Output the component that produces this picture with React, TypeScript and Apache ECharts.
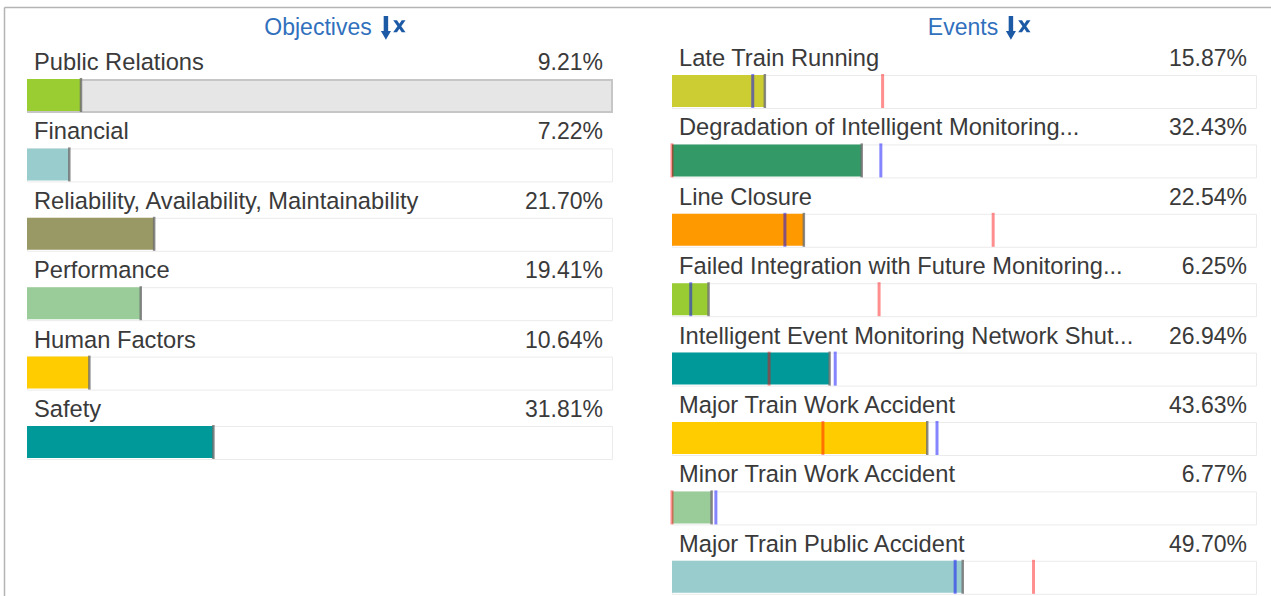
import React, { useEffect, useRef } from 'react';
import * as echarts from 'echarts';

const objectiveNames = [
  'Public Relations',
  'Financial',
  'Reliability, Availability, Maintainability',
  'Performance',
  'Human Factors',
  'Safety',
];
const objectiveValues = [9.21, 7.22, 21.7, 19.41, 10.64, 31.81];
const objectiveColors = ['#9acd32', '#99cccc', '#999966', '#99cc99', '#ffcc00', '#009999'];

const eventNames = [
  'Late Train Running',
  'Degradation of Intelligent Monitoring...',
  'Line Closure',
  'Failed Integration with Future Monitoring...',
  'Intelligent Event Monitoring Network Shut...',
  'Major Train Work Accident',
  'Minor Train Work Accident',
  'Major Train Public Accident',
];
const eventValues = [15.87, 32.43, 22.54, 6.25, 26.94, 43.63, 6.77, 49.7];
const eventColors = ['#cccc33', '#339966', '#ff9900', '#99cc33', '#009999', '#ffcc00', '#99cc99', '#99cccc'];
const eventBlueMarks = [13.8, 35.7, 19.3, 3.2, 27.9, 45.3, 7.5, 48.4];
const eventRedMarks = [36.0, 0, 54.9, 35.4, 16.6, 25.8, 0, 61.8];

const panelTitles = ['Objectives', 'Events'];

const ICON_PATH =
  'M1.5 0 H5.5 V14 H8 L3.5 22 L-1 14 H1.5 Z ' +
  'M10 4 L13.4 4 L15.5 7.2 L17.6 4 L21 4 L17.2 9.5 L21 15 L17.6 15 L15.5 11.8 L13.4 15 L10 15 L13.8 9.5 Z';

let iconRegistered = false;
function ensureIcon() {
  if (iconRegistered) return;
  echarts.graphic.registerShape('sortIcon', echarts.graphic.extendPath(ICON_PATH, {}));
  iconRegistered = true;
}

const FONT = '"Liberation Sans", Arial, sans-serif';
const TEXT_COLOR = '#3a3a3a';
const TITLE_COLOR = '#3170bd';
const ICON_COLOR = '#1d5aa6';

function pct(v: number) {
  return v.toFixed(2) + '%';
}

function hiddenAxis(gridIndex: number, data: string[]) {
  return {
    gridIndex,
    type: 'category',
    inverse: true,
    data,
    axisLine: { show: false },
    axisTick: { show: false },
    axisLabel: { show: false },
    splitLine: { show: false },
  };
}

const labelText = {
  fontFamily: FONT,
  color: TEXT_COLOR,
  verticalAlign: 'middle',
};

function panelSeries(
  axisIndex: number,
  names: string[],
  values: number[],
  colors: string[],
  highlightFirst: boolean
) {
  const trackStyle = { color: '#ffffff', borderColor: '#ebebeb', borderWidth: 1 };
  return [
    {
      type: 'bar',
      xAxisIndex: axisIndex,
      yAxisIndex: axisIndex,
      barWidth: 34,
      barGap: '-100%',
      silent: true,
      itemStyle: trackStyle,
      label: {
        show: true,
        position: [7, -17],
        align: 'left',
        fontSize: 23.7,
        formatter: (p: any) => names[p.dataIndex],
        ...labelText,
      },
      data: names.map((_, i) =>
        highlightFirst && i === 0
          ? { value: 100, itemStyle: { color: '#e6e6e6', borderColor: '#c6c6c6', borderWidth: 2 } }
          : { value: 100 }
      ),
    },
    {
      type: 'bar',
      xAxisIndex: axisIndex,
      yAxisIndex: axisIndex,
      barWidth: 34,
      barGap: '-100%',
      silent: true,
      itemStyle: { color: 'rgba(0,0,0,0)' },
      label: {
        show: true,
        position: ['100%', -17],
        offset: [-10, 0],
        align: 'right',
        fontSize: 23,
        formatter: (p: any) => pct(values[p.dataIndex]),
        ...labelText,
      },
      data: names.map(() => 100),
    },
    {
      type: 'bar',
      xAxisIndex: axisIndex,
      yAxisIndex: axisIndex,
      barWidth: 32,
      barGap: '-100%',
      silent: true,
      data: values.map((v, i) => ({ value: v, itemStyle: { color: colors[i] } })),
    },
    {
      type: 'scatter',
      xAxisIndex: axisIndex,
      yAxisIndex: axisIndex,
      symbol: 'rect',
      symbolSize: [2.5, 34],
      silent: true,
      itemStyle: { color: '#6e6e6e' },
      data: values.map((v, i) => [v, i]),
    },
  ];
}

export default function App() {
  const ref = useRef<HTMLDivElement>(null);

  useEffect(() => {
    if (!ref.current) return;
    ensureIcon();
    const chart = echarts.init(ref.current, undefined, { renderer: 'svg' });

    const series: any[] = [
      ...panelSeries(0, objectiveNames, objectiveValues, objectiveColors, true),
      ...panelSeries(1, eventNames, eventValues, eventColors, false),
      {
        type: 'scatter',
        xAxisIndex: 1,
        yAxisIndex: 1,
        symbol: 'rect',
        symbolSize: [3, 34],
        silent: true,
        itemStyle: { color: 'rgba(255,0,0,0.55)' },
        data: eventRedMarks.map((v, i) => [v, i]),
      },
      {
        type: 'scatter',
        xAxisIndex: 1,
        yAxisIndex: 1,
        symbol: 'rect',
        symbolSize: [3, 34],
        silent: true,
        itemStyle: { color: 'rgba(0,0,255,0.6)' },
        data: eventBlueMarks.map((v, i) => [v, i]),
      },
    ];

    const option: any = {
      animation: false,
      grid: [
        { left: 27, width: 586, top: 60.3, height: 416.4, containLabel: false },
        { left: 672, width: 585, top: 56.3, height: 555.2, containLabel: false },
      ],
      xAxis: [
        { gridIndex: 0, type: 'value', min: 0, max: 100, show: false },
        { gridIndex: 1, type: 'value', min: 0, max: 100, show: false },
      ],
      yAxis: [hiddenAxis(0, objectiveNames), hiddenAxis(1, eventNames)],
      series,
      graphic: [
        {
          type: 'line',
          silent: true,
          shape: { x1: 4.5, y1: 7.5, x2: 1271, y2: 7.5 },
          style: { stroke: '#b4b4b4', lineWidth: 1.5 },
        },
        {
          type: 'line',
          silent: true,
          shape: { x1: 4.5, y1: 7.5, x2: 4.5, y2: 640 },
          style: { stroke: '#b4b4b4', lineWidth: 1.5 },
        },
        {
          type: 'text',
          x: 318,
          y: 27,
          style: {
            text: panelTitles[0],
            fill: TITLE_COLOR,
            font: '23px ' + FONT,
            align: 'center',
            verticalAlign: 'middle',
          },
        },
        {
          type: 'sortIcon',
          x: 382,
          y: 16,
          scaleX: 1.12,
          scaleY: 1.08,
          style: { fill: ICON_COLOR },
        },
        {
          type: 'text',
          x: 963,
          y: 27,
          style: {
            text: panelTitles[1],
            fill: TITLE_COLOR,
            font: '23px ' + FONT,
            align: 'center',
            verticalAlign: 'middle',
          },
        },
        {
          type: 'sortIcon',
          x: 1007,
          y: 16,
          scaleX: 1.12,
          scaleY: 1.08,
          style: { fill: ICON_COLOR },
        },
      ],
    };

    chart.setOption(option);
    return () => {
      chart.dispose();
    };
  }, []);

  return (
    <div
      style={{ position: 'absolute', left: 0, top: 0, width: 1271, height: 596, overflow: 'hidden', background: '#ffffff' }}
    >
      <div ref={ref} style={{ width: 1271, height: 640 }} />
    </div>
  );
}
